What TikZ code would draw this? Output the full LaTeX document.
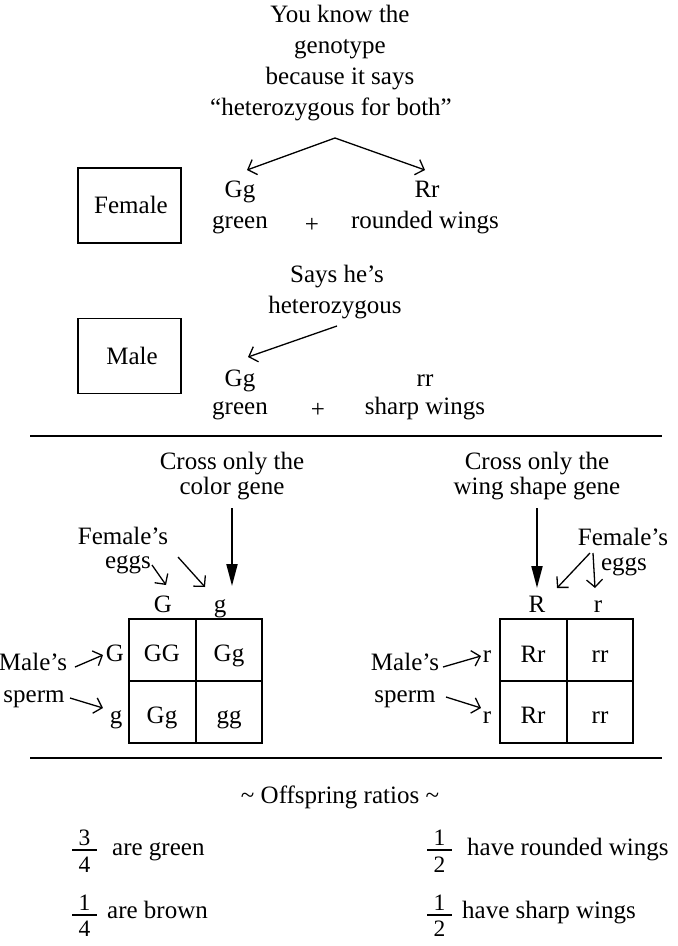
\documentclass[tikz,border=0pt]{standalone}
\usepackage{fontspec}
\setmainfont{Liberation Serif}
\usetikzlibrary{arrows.meta}
\begin{document}
\begin{tikzpicture}[x=1pt,y=-1pt,
  txt/.style={inner sep=0pt, anchor=base, font=\fontsize{25}{26}\selectfont},
  ltxt/.style={txt, anchor=base west},
  digit/.style={inner sep=0pt, anchor=base, font=\fontsize{23.5}{24}\selectfont},
  box/.style={draw, line width=1.4pt, minimum width=103pt, minimum height=75pt, inner sep=0pt},
  arr/.style={line width=1.3pt, -{Straight Barb[length=7.5pt,width=16pt,line width=1.3pt]}},
  bigarr/.style={line width=2pt, -{Triangle[length=22pt,width=11pt]}},
  rule/.style={line width=1.4pt},
  gridline/.style={line width=1.4pt},
  fracbar/.style={line width=1.3pt}]
\useasboundingbox (0,0) rectangle (678,946);

% ---- title
\node[txt] (t1) at (340,22) {You know the};
\node[txt] (t2) at (340,53) {genotype};
\node[txt] (t3) at (340,84) {because it says};
\node[txt] (t4) at (331,115) {“heterozygous for both”};
\coordinate (apex) at (335,138);

% ---- female
\node[box] (female) at (129.5,205.5) {};
\node[txt] at (131,213) {Female};
\node[txt] (fGg) at (240,197) {Gg};
\node[txt] (fgreen) at (240,228) {green};
\node[txt] (fplus) at (312,232) {+};
\node[txt] (fRr) at (427,197) {Rr};
\node[txt] (fround) at (425,228) {rounded wings};
\coordinate (fL) at (247,170);
\coordinate (fR) at (425,170);
\draw[arr] (apex) -- (fL);
\draw[arr] (apex) -- (fR);

% ---- male
\node[txt] (s1) at (337,282) {Says he’s};
\node[txt] (s2) at (335,313) {heterozygous};
\node[box] (male) at (129.5,356) {};
\node[txt] at (132,364) {Male};
\node[txt] (mGg) at (240,386) {Gg};
\node[txt] (mgreen) at (240,414) {green};
\node[txt] (mplus) at (318,417) {+};
\node[txt] (mrr) at (425,386) {rr};
\node[txt] (msharp) at (425,414) {sharp wings};
\coordinate (ms) at (337,326);
\coordinate (me) at (248,357);
\draw[arr] (ms) -- (me);

% ---- rules
\coordinate (r1a) at (30,436);
\coordinate (r1b) at (662,436);
\draw[rule] (r1a) -- (r1b);
\coordinate (r2a) at (30,758);
\coordinate (r2b) at (662,758);
\draw[rule] (r2a) -- (r2b);

% ---- left cross
\node[txt] (c1) at (232,469) {Cross only the};
\node[txt] (c2) at (232,494) {color gene};
\coordinate (cA) at (232,508);
\coordinate (cB) at (232,586);
\draw[bigarr] (cA) -- (cB);
\node[txt] (lfem) at (123,544) {Female’s};
\node[txt] (legg) at (128,568) {eggs};
\coordinate (le1s) at (152,565);
\coordinate (le1e) at (166,585);
\coordinate (le2s) at (178,557);
\coordinate (le2e) at (205,587);
\draw[arr] (le1s) -- (le1e);
\draw[arr] (le2s) -- (le2e);
\node[txt] (lcG) at (163,612) {G};
\node[txt] (lcg) at (220,612) {g};
\draw[gridline] (129,619) rectangle (262,743);
\draw[gridline] (196,619) -- (196,743);
\draw[gridline] (129,681) -- (262,681);
\node[txt] (l11) at (162,661) {GG};
\node[txt] (l12) at (229,661) {Gg};
\node[txt] (l21) at (162,723) {Gg};
\node[txt] (l22) at (229,723) {gg};
\node[txt] (lrG) at (115,661) {G};
\node[txt] (lrg) at (116,723) {g};
\node[txt] (lmale) at (33,670) {Male’s};
\node[txt] (lsperm) at (34,702) {sperm};
\coordinate (lm1s) at (75,667);
\coordinate (lm1e) at (103,655);
\coordinate (lm2s) at (70,698);
\coordinate (lm2e) at (103,708);
\draw[arr] (lm1s) -- (lm1e);
\draw[arr] (lm2s) -- (lm2e);

% ---- right cross
\node[txt] (d1) at (537,469) {Cross only the};
\node[txt] (d2) at (537,494) {wing shape gene};
\coordinate (dA) at (537,508);
\coordinate (dB) at (537,588);
\draw[bigarr] (dA) -- (dB);
\node[txt] (rfem) at (623,545) {Female’s};
\node[txt] (regg) at (624,570) {eggs};
\coordinate (re1s) at (590,553);
\coordinate (re1e) at (557,588);
\coordinate (re2s) at (593,553);
\coordinate (re2e) at (595,588);
\draw[arr] (re1s) -- (re1e);
\draw[arr] (re2s) -- (re2e);
\node[txt] (rcR) at (537,612) {R};
\node[txt] (rcr) at (598,612) {r};
\draw[gridline] (500,619) rectangle (633,743);
\draw[gridline] (567,619) -- (567,743);
\draw[gridline] (500,681) -- (633,681);
\node[txt] (r11) at (533,662) {Rr};
\node[txt] (r12) at (600,662) {rr};
\node[txt] (r21) at (533,723) {Rr};
\node[txt] (r22) at (600,723) {rr};
\node[txt] (rr1) at (487,662) {r};
\node[txt] (rr2) at (487,723) {r};
\node[txt] (rmale) at (405,670) {Male’s};
\node[txt] (rsperm) at (405,702) {sperm};
\coordinate (rm1s) at (443,667);
\coordinate (rm1e) at (481,656);
\coordinate (rm2s) at (446,697);
\coordinate (rm2e) at (481,708);
\draw[arr] (rm1s) -- (rm1e);
\draw[arr] (rm2s) -- (rm2e);

% ---- offspring ratios
\node[txt] (off) at (340,803) {\textasciitilde\ Offspring ratios \textasciitilde};
% 3/4
\node[digit] (f1n) at (84.5,845) {3};
\node[digit] (f1d) at (84.5,872) {4};
\coordinate (f1a) at (72,850); \coordinate (f1b) at (97,850);
\draw[fracbar] (f1a) -- (f1b);
\node[ltxt] (f1t) at (112,855) {are green};
% 1/4
\node[digit] (f2n) at (84.5,910) {1};
\node[digit] (f2d) at (84.5,936) {4};
\coordinate (f2a) at (72,915); \coordinate (f2b) at (97,915);
\draw[fracbar] (f2a) -- (f2b);
\node[ltxt] (f2t) at (107,918) {are brown};
% 1/2
\node[digit] (f3n) at (439.5,845) {1};
\node[digit] (f3d) at (439.5,872) {2};
\coordinate (f3a) at (427,850); \coordinate (f3b) at (452,850);
\draw[fracbar] (f3a) -- (f3b);
\node[ltxt] (f3t) at (467,855) {have rounded wings};
% 1/2
\node[digit] (f4n) at (439.5,910) {1};
\node[digit] (f4d) at (439.5,936) {2};
\coordinate (f4a) at (427,915); \coordinate (f4b) at (452,915);
\draw[fracbar] (f4a) -- (f4b);
\node[ltxt] (f4t) at (462,918) {have sharp wings};
\end{tikzpicture}
\end{document}
